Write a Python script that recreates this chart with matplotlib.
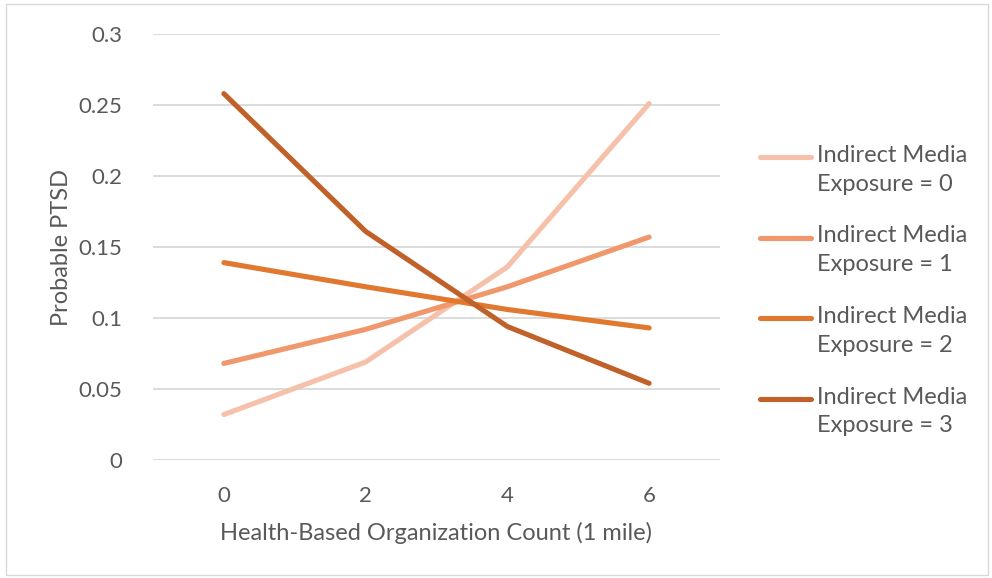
import matplotlib
matplotlib.use("Agg")
import matplotlib.pyplot as plt
from matplotlib.patches import Rectangle
from matplotlib.lines import Line2D

# Data
org_counts = ["0", "2", "4", "6"]
exposure_0 = [0.032, 0.069, 0.136, 0.251]
exposure_1 = [0.068, 0.092, 0.122, 0.157]
exposure_2 = [0.139, 0.122, 0.106, 0.093]
exposure_3 = [0.258, 0.161, 0.094, 0.054]
series_labels = [
    "Indirect Media\nExposure = 0",
    "Indirect Media\nExposure = 1",
    "Indirect Media\nExposure = 2",
    "Indirect Media\nExposure = 3",
]
y_ticks = [0, 0.05, 0.1, 0.15, 0.2, 0.25, 0.3]
y_tick_labels = ["0", "0.05", "0.1", "0.15", "0.2", "0.25", "0.3"]

colors = ["#F5C1AA", "#F0976C", "#E1782F", "#C0612A"]
text_color = "#595959"
fs_tick = 16
fs_text = 17

plt.rcParams["font.family"] = ["Lato", "DejaVu Sans"]

W, H = 992, 578
fig = plt.figure(figsize=(W / 100, H / 100), dpi=100)
ax = fig.add_axes([153 / W, 1 - 460 / H, (720 - 153) / W, (460 - 34) / H])

x = list(range(len(org_counts)))
for vals, col, lab in zip([exposure_0, exposure_1, exposure_2, exposure_3], colors, series_labels):
    ax.plot(x, vals, color=col, lw=3.7, solid_capstyle="round", solid_joinstyle="round", label=lab)

ax.set_xlim(-0.5, len(org_counts) - 0.5)
ax.set_ylim(0, 0.3)
ax.set_xticks(x)
ax.set_xticklabels(org_counts)
ax.set_yticks(y_ticks)
ax.set_yticklabels(y_tick_labels)
ax.yaxis.grid(True, color="#D9D9D9", lw=1.3)
ax.set_axisbelow(True)
for s in ax.spines.values():
    s.set_visible(False)
ax.tick_params(axis="both", length=0, labelsize=fs_tick, colors=text_color)
ax.tick_params(axis="y", pad=22)
ax.tick_params(axis="x", pad=19)

ax.set_xlabel("Health-Based Organization Count (1 mile)", fontsize=fs_text, color=text_color, labelpad=11)
ax.set_ylabel("Probable PTSD", fontsize=fs_text, color=text_color, labelpad=5)

# Legend on the right: handle aligned with the first line of each two-line label
handles, labels = ax.get_legend_handles_labels()
for i, (h, lab) in enumerate(zip(handles, labels)):
    yc = 1 - (157 + i * 80.5) / H
    fig.add_artist(Line2D([760 / W, 811 / W], [yc, yc], transform=fig.transFigure,
                          color=h.get_color(), lw=3.7, solid_capstyle="round"))
    fig.text(817 / W, yc + 12 / H, lab, transform=fig.transFigure, fontsize=fs_text,
             color=text_color, ha="left", va="top", linespacing=1.45)

fig.patches.append(Rectangle((6 / W, 3 / H), 982 / W, 571 / H, transform=fig.transFigure,
                             fill=False, edgecolor="#D9D9D9", lw=1))

fig.savefig("out.png", dpi=100)
